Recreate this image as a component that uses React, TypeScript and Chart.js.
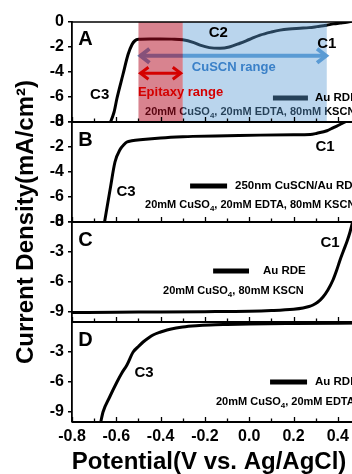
import React, { useEffect, useRef } from "react";
import { Chart, registerables } from "chart.js";

Chart.register(...registerables);

const FONT = "'Liberation Sans', Arial, Helvetica, sans-serif";

// ---- Data (Potential in V vs Ag/AgCl, current density in mA/cm2) ----
// Panel A: Au RDE in 20mM CuSO4, 20mM EDTA, 80mM KSCN
const potentialA = [-0.633, -0.61, -0.597, -0.57, -0.547, -0.529, -0.516, -0.5, -0.45, -0.4, -0.35, -0.3, -0.25, -0.222, -0.18, -0.132, -0.09, -0.042, 0.0, 0.049, 0.1, 0.139, 0.18, 0.229, 0.27, 0.306, 0.335, 0.351, 0.38, 0.41, 0.44, 0.47, 0.5];
const currentA = [-8.3, -7.2, -6.1, -4.2, -2.6, -1.8, -1.5, -1.38, -1.35, -1.35, -1.37, -1.42, -1.65, -1.85, -2.05, -2.1, -2.0, -1.7, -1.4, -1.05, -0.8, -0.65, -0.56, -0.5, -0.45, -0.37, -0.3, -0.25, -0.15, -0.08, -0.02, 0.1, 0.3];

// Panel B: 250nm CuSCN/Au RDE
const potentialB = [-0.655, -0.628, -0.606, -0.583, -0.565, -0.552, -0.53, -0.48, -0.4, -0.3, -0.254, -0.1, 0.049, 0.2, 0.275, 0.306, 0.351, 0.38, 0.41, 0.43, 0.46, 0.5];
const currentB = [-8.2, -5.4, -3.2, -2.2, -1.8, -1.6, -1.5, -1.4, -1.28, -1.18, -1.15, -1.1, -1.05, -1.02, -1.0, -0.9, -0.7, -0.45, -0.2, -0.02, 0.2, 0.4];

// Panel C: Au RDE in 20mM CuSO4, 80mM KSCN
const potentialC = [-0.8, -0.6, -0.4, -0.2, 0.0, 0.1, 0.2, 0.243, 0.27, 0.288, 0.31, 0.333, 0.355, 0.378, 0.395, 0.41, 0.425, 0.442, 0.455, 0.47];
const currentC = [-9.05, -9.02, -9.0, -8.97, -8.92, -8.85, -8.72, -8.6, -8.45, -8.3, -8.0, -7.5, -6.8, -5.8, -4.8, -3.8, -2.9, -1.9, -1.0, 0.3];

// Panel D: Au RDE in 20mM CuSO4, 20mM EDTA
const potentialD = [-0.672, -0.66, -0.63, -0.597, -0.575, -0.552, -0.524, -0.5, -0.479, -0.455, -0.434, -0.4, -0.371, -0.33, -0.3, -0.24, -0.177, -0.1, 0.0, 0.2, 0.5];
const currentD = [-10.2, -9.0, -7.5, -6.0, -5.1, -4.3, -3.0, -2.45, -2.0, -1.6, -1.3, -1.0, -0.8, -0.6, -0.5, -0.38, -0.3, -0.25, -0.2, -0.15, -0.1];

// ---- Axis ticks ----
const xTickValues = [-0.8, -0.6, -0.4, -0.2, 0.0, 0.2, 0.4];
const xMinorStep = 0.1;
const yTicksA = [0, -2, -4, -6, -8];
const yTicksB = [0, -2, -4, -6, -8];
const yTicksC = [0, -3, -6, -9];
const yTicksD = [-3, -6, -9];

// ---- Text ----
const panelNames = ["A", "B", "C", "D"];
const legendLabels = ["Au RDE", "250nm CuSCN/Au RDE", "Au RDE", "Au RDE"];
type Seg = [string, boolean];
const conditionA: Seg[] = [["20mM CuSO", false], ["4", true], [", 20mM EDTA, 80mM KSCN", false]];
const conditionB: Seg[] = [["20mM CuSO", false], ["4", true], [", 20mM EDTA, 80mM KSCN", false]];
const conditionC: Seg[] = [["20mM CuSO", false], ["4", true], [", 80mM KSCN", false]];
const conditionD: Seg[] = [["20mM CuSO", false], ["4", true], [", 20mM EDTA", false]];
const epitaxyRange = [-0.5, -0.3];
const cuscnRange = [-0.3, 0.35];

// annotation placements in data coordinates
const axisIds = ["yA", "yB", "yC", "yD"];
const axisTicks = [yTicksA, yTicksB, yTicksC, yTicksD];
const letterX = -0.772;
const letterY = [-1.36, -1.44, -1.8, -1.8];
const curveLabels = [
  { axis: "yA", text: "C3", x: -0.675, y: -5.85 },
  { axis: "yA", text: "C2", x: -0.14, y: -0.9 },
  { axis: "yA", text: "C1", x: 0.35, y: -1.75 },
  { axis: "yB", text: "C3", x: -0.556, y: -5.6 },
  { axis: "yB", text: "C1", x: 0.342, y: -2.0 },
  { axis: "yC", text: "C1", x: 0.365, y: -2.1 },
  { axis: "yD", text: "C3", x: -0.475, y: -5.1 },
];
const legendLine = [
  { x0: 0.107, x1: 0.265, y: -6.08, tx: 0.297 },
  { x0: -0.267, x1: -0.1, y: -5.12, tx: -0.064 },
  { x0: -0.163, x1: -0.001, y: -4.9, tx: 0.062 },
  { x0: 0.094, x1: 0.261, y: -6.0, tx: 0.297 },
];
const conditions = [
  { segs: conditionA, x: -0.47, y: -7.2 },
  { segs: conditionB, x: -0.47, y: -6.64 },
  { segs: conditionC, x: -0.389, y: -6.9 },
  { segs: conditionD, x: -0.15, y: -8.0 },
];
const cuscnArrow = { x0: -0.5, x1: 0.356, y: -2.7, labelX: -0.07, labelY: -3.6 };
const epitaxyArrow = { x0: -0.5, x1: -0.3, y: -4.1, labelX: -0.31, labelY: -5.6 };

function drawRich(ctx: CanvasRenderingContext2D, segs: Seg[], x: number, y: number, size: number, color: string) {
  let cx = x;
  ctx.fillStyle = color;
  ctx.textAlign = "left";
  ctx.textBaseline = "middle";
  for (const [t, sub] of segs) {
    const s = sub ? Math.round(size * 0.72) : size;
    ctx.font = `bold ${s}px ${FONT}`;
    ctx.fillText(t, cx, sub ? y + size * 0.3 : y);
    cx += ctx.measureText(t).width;
  }
}

function chevron(ctx: CanvasRenderingContext2D, tipX: number, y: number, dir: number, len: number, half: number) {
  ctx.beginPath();
  ctx.moveTo(tipX - dir * len, y - half);
  ctx.lineTo(tipX, y);
  ctx.lineTo(tipX - dir * len, y + half);
  ctx.stroke();
}

function arrow(ctx: CanvasRenderingContext2D, x0: number, x1: number, y: number, color: string, width: number, len: number, half: number) {
  ctx.save();
  ctx.strokeStyle = color;
  ctx.lineWidth = width;
  ctx.lineCap = "butt";
  ctx.lineJoin = "miter";
  ctx.beginPath();
  ctx.moveTo(x0 + 2, y);
  ctx.lineTo(x1 - 2, y);
  ctx.stroke();
  chevron(ctx, x1 - 2, y, 1, len, half);
  chevron(ctx, x0 + 2, y, -1, len, half);
  ctx.restore();
}

const annotPlugin = {
  id: "annot",
  afterDatasetsDraw(chart: any) {
    const ctx: CanvasRenderingContext2D = chart.ctx;
    const xs = chart.scales.x;
    const px = (v: number) => xs.getPixelForValue(v);
    const yA = chart.scales.yA;
    ctx.save();

    // items lying under the shaded ranges in panel A
    ctx.strokeStyle = "#000";
    ctx.lineWidth = 5;
    ctx.beginPath();
    ctx.moveTo(px(legendLine[0].x0), yA.getPixelForValue(legendLine[0].y));
    ctx.lineTo(px(legendLine[0].x1), yA.getPixelForValue(legendLine[0].y));
    ctx.stroke();
    drawRich(ctx, conditions[0].segs, px(conditions[0].x), yA.getPixelForValue(conditions[0].y), 11, "#000");
    arrow(ctx, px(cuscnArrow.x0), px(cuscnArrow.x1), yA.getPixelForValue(cuscnArrow.y), "#5b9bd5", 4, 9, 7);

    // shaded potential ranges
    ctx.fillStyle = "rgba(178, 8, 32, 0.5)";
    ctx.fillRect(px(epitaxyRange[0]), yA.top, px(epitaxyRange[1]) - px(epitaxyRange[0]), yA.bottom - yA.top);
    ctx.fillStyle = "rgba(91, 155, 213, 0.42)";
    ctx.fillRect(px(cuscnRange[0]), yA.top, px(cuscnRange[1]) - px(cuscnRange[0]), yA.bottom - yA.top);

    // range labels & epitaxy arrow
    arrow(ctx, px(epitaxyArrow.x0), px(epitaxyArrow.x1), yA.getPixelForValue(epitaxyArrow.y), "#d40000", 3, 8, 6);
    ctx.font = `bold 13px ${FONT}`;
    ctx.textAlign = "center";
    ctx.textBaseline = "middle";
    ctx.fillStyle = "#d40000";
    ctx.fillText("Epitaxy range", px(epitaxyArrow.labelX), yA.getPixelForValue(epitaxyArrow.labelY));
    ctx.fillStyle = "#3a80c8";
    ctx.fillText("CuSCN range", px(cuscnArrow.labelX), yA.getPixelForValue(cuscnArrow.labelY));

    // legends, conditions, panel letters
    for (let i = 0; i < 4; i++) {
      const ys = chart.scales[axisIds[i]];
      const L = legendLine[i];
      if (i > 0) {
        ctx.strokeStyle = "#000";
        ctx.lineWidth = 5;
        ctx.beginPath();
        ctx.moveTo(px(L.x0), ys.getPixelForValue(L.y));
        ctx.lineTo(px(L.x1), ys.getPixelForValue(L.y));
        ctx.stroke();
        const c = conditions[i];
        drawRich(ctx, c.segs, px(c.x), ys.getPixelForValue(c.y), 11, "#000");
      }
      ctx.font = `bold 11.5px ${FONT}`;
      ctx.textAlign = "left";
      ctx.textBaseline = "middle";
      ctx.fillStyle = "#000";
      ctx.fillText(legendLabels[i], px(L.tx), ys.getPixelForValue(L.y));

      ctx.font = `bold 20px ${FONT}`;
      ctx.fillText(panelNames[i], px(letterX), ys.getPixelForValue(letterY[i]));
    }

    ctx.font = `bold 15px ${FONT}`;
    ctx.textAlign = "center";
    ctx.textBaseline = "middle";
    ctx.fillStyle = "#000";
    for (const l of curveLabels) {
      ctx.fillText(l.text, px(l.x), chart.scales[l.axis].getPixelForValue(l.y));
    }
    ctx.restore();
  },
  afterDraw(chart: any) {
    const ctx: CanvasRenderingContext2D = chart.ctx;
    const xs = chart.scales.x;
    const area = chart.chartArea;
    ctx.save();
    ctx.strokeStyle = "#000";
    ctx.lineWidth = 1.5;
    ctx.beginPath();
    ctx.moveTo(area.left, area.top);
    ctx.lineTo(area.right, area.top);
    ctx.stroke();
    for (const id of axisIds) {
      const ys = chart.scales[id];
      const yb = ys.bottom;
      ctx.lineWidth = 2;
      ctx.beginPath();
      ctx.moveTo(area.left, yb);
      ctx.lineTo(area.right, yb);
      ctx.stroke();
      ctx.lineWidth = 1.3;
      const n = Math.round((xs.max - xs.min) / xMinorStep);
      for (let k = 0; k <= n; k++) {
        const v = xs.min + k * xMinorStep;
        const major = k % 2 === 0;
        const p = Math.round(xs.getPixelForValue(v)) + 0.5;
        ctx.beginPath();
        ctx.moveTo(p, yb);
        ctx.lineTo(p, yb - (major ? 5 : 3.5));
        ctx.stroke();
      }
    }
    // axis titles
    ctx.fillStyle = "#000";
    ctx.font = `bold 24px ${FONT}`;
    ctx.textAlign = "center";
    ctx.textBaseline = "alphabetic";
    ctx.fillText("Potential(V vs. Ag/AgCl)", area.left + 137, area.bottom + 47);
    ctx.save();
    ctx.translate(area.left - 39, (area.top + area.bottom) / 2);
    ctx.rotate(-Math.PI / 2);
    ctx.fillText("Current Density(mA/cm\u00B2)", 0, 0);
    ctx.restore();

    // y tick labels of each panel, positioned by each panel's scale (drawn last)
    ctx.setTransform(1, 0, 0, 1, 0, 0);
    ctx.globalAlpha = 1;
    ctx.globalCompositeOperation = "source-over";
    ctx.fillStyle = "#000";
    ctx.font = `bold 16px ${FONT}`;
    ctx.textAlign = "right";
    ctx.textBaseline = "middle";
    for (let i = 0; i < axisIds.length; i++) {
      const ys = chart.scales[axisIds[i]];
      for (const v of axisTicks[i]) {
        ctx.fillText(String(v), area.left - 8, ys.getPixelForValue(v));
      }
    }
    ctx.restore();
  },
};

function yAxis(ticks: number[], min: number, max: number, weight: number) {
  return {
    type: "linear" as const,
    position: "left" as const,
    stack: "panels",
    stackWeight: 1,
    weight,
    min,
    max,
    offset: false,
    grid: { display: true, drawOnChartArea: false, drawTicks: true, tickLength: 4, color: "#000", lineWidth: 1.5 },
    border: { display: true, color: "#000", width: 1.8 },
    ticks: { display: false, autoSkip: false },
    afterBuildTicks: (s: any) => {
      s.ticks = ticks.map((v) => ({ value: v }));
    },
    afterFit: (s: any) => {
      s.width = 72;
    },
  };
}

function series(xs: number[], ys: number[], axis: string) {
  return {
    data: xs.map((x, i) => ({ x, y: ys[i] })),
    xAxisID: "x",
    yAxisID: axis,
    borderColor: "#000",
    borderWidth: 3,
    pointRadius: 0,
    fill: false,
    cubicInterpolationMode: "monotone" as const,
  };
}

export default function App() {
  const ref = useRef<HTMLCanvasElement>(null);
  useEffect(() => {
    const canvas = ref.current!;
    const chart = new Chart(canvas, {
      type: "line",
      data: {
        datasets: [
          series(potentialA, currentA, "yA"),
          series(potentialB, currentB, "yB"),
          series(potentialC, currentC, "yC"),
          series(potentialD, currentD, "yD"),
        ],
      },
      options: {
        responsive: false,
        animation: false,
        devicePixelRatio: 1,
        events: [],
        layout: { padding: { top: 22, right: 10, left: 0, bottom: 0 } },
        plugins: { legend: { display: false }, tooltip: { enabled: false } },
        scales: {
          x: {
            type: "linear",
            min: -0.8,
            max: 0.5,
            position: "bottom",
            grid: { display: false, drawTicks: false },
            border: { display: false },
            ticks: {
              color: "#000",
              padding: 5,
              maxRotation: 0,
              autoSkip: false,
              font: { family: FONT, size: 16, weight: "bold" },
              callback: (v: any) => Number(v).toFixed(1),
            },
            afterBuildTicks: (s: any) => {
              s.ticks = xTickValues.map((v) => ({ value: v }));
            },
            afterFit: (s: any) => {
              s.height = 52;
            },
          },
          yA: yAxis(yTicksA, -8, 0, 4),
          yB: yAxis(yTicksB, -8, 0, 3),
          yC: yAxis(yTicksC, -10, 0, 2),
          yD: yAxis(yTicksD, -10, 0, 1),
        } as any,
      },
      plugins: [annotPlugin],
    });
    return () => chart.destroy();
  }, []);
  return (
    <div style={{ position: "fixed", left: 0, top: 0, width: 352, height: 474, overflow: "hidden", background: "#fff" }}>
      <canvas ref={ref} width={370} height={474} style={{ display: "block", width: 370, height: 474 }} />
    </div>
  );
}
